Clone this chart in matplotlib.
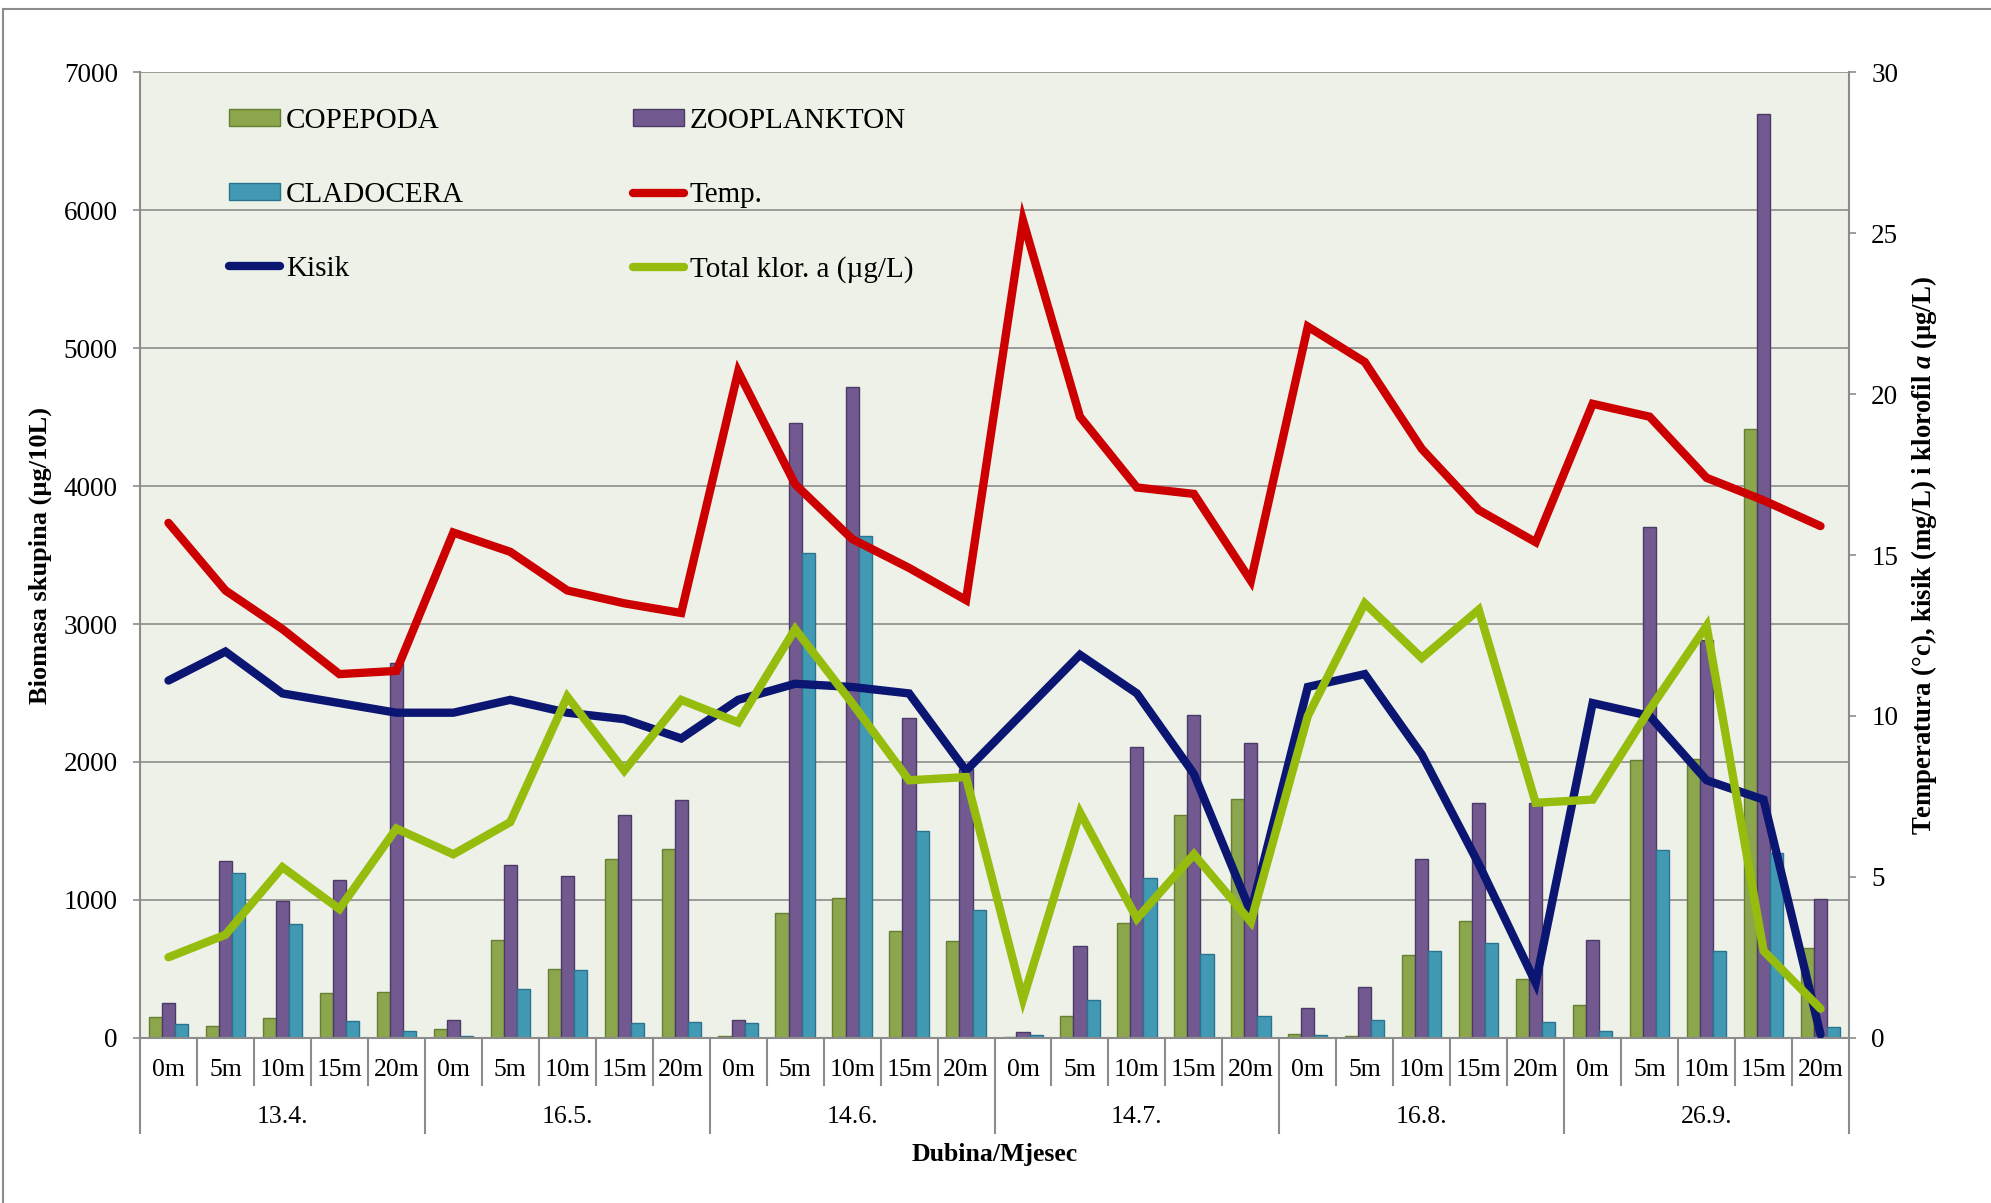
import matplotlib
matplotlib.use("Agg")
import matplotlib.pyplot as plt
from matplotlib.lines import Line2D
from matplotlib.patches import Patch
import numpy as np

# categories
months = ["13.4.", "16.5.", "14.6.", "14.7.", "16.8.", "26.9."]
depths = ["0m", "5m", "10m", "15m", "20m"]

# biomass (ug/10L), one value per month/depth
copepoda = [150, 87, 143, 322, 331,
            61, 711, 498, 1296, 1371,
            12, 904, 1015, 776, 703,
            8, 155, 832, 1617, 1732,
            27, 15, 600, 846, 423,
            235, 2017, 2020, 4412, 648]
zooplankton = [249, 1281, 993, 1146, 2717,
               131, 1250, 1173, 1617, 1722,
               128, 4458, 4716, 2321, 1950,
               41, 665, 2109, 2340, 2137,
               215, 368, 1294, 1704, 1704,
               708, 3703, 2883, 6696, 1005]
cladocera = [99, 1194, 827, 121, 49,
             12, 351, 491, 107, 114,
             106, 3518, 3638, 1501, 926,
             17, 273, 1160, 605, 155,
             22, 126, 631, 689, 114,
             49, 1363, 631, 1337, 78]

# secondary axis series
temp = [16.0, 13.9, 12.7, 11.3, 11.4,
        15.7, 15.1, 13.9, 13.5, 13.2,
        20.7, 17.2, 15.5, 14.6, 13.6,
        25.4, 19.3, 17.1, 16.9, 14.2,
        22.1, 21.0, 18.3, 16.4, 15.4,
        19.7, 19.3, 17.4, 16.7, 15.9]
kisik = [11.1, 12.0, 10.7, 10.4, 10.1,
         10.1, 10.5, 10.1, 9.9, 9.3,
         10.5, 11.0, 10.9, 10.7, 8.3,
         10.1, 11.9, 10.7, 8.2, 3.9,
         10.9, 11.3, 8.8, 5.4, 1.7,
         10.4, 10.0, 8.0, 7.4, 0.1]
klorofil = [2.5, 3.2, 5.3, 4.0, 6.5,
            5.7, 6.7, 10.6, 8.3, 10.5,
            9.8, 12.7, 10.4, 8.0, 8.1,
            1.2, 7.0, 3.7, 5.7, 3.6,
            10.0, 13.5, 11.8, 13.3, 7.3,
            7.4, 10.2, 12.8, 2.7, 0.9]

plt.rcParams["font.family"] = ["Liberation Serif", "DejaVu Serif"]
plt.rcParams["mathtext.fontset"] = "custom"
plt.rcParams["mathtext.rm"] = "Liberation Serif:bold"
plt.rcParams["mathtext.it"] = "Liberation Serif:italic:bold"

W, H = 1991, 1203
fig = plt.figure(figsize=(W / 100, H / 100), dpi=100)
fig.patch.set_facecolor("white")

ax_l, ax_r, ax_t, ax_b = 140, 1849, 72.4, 1037.7
ax = fig.add_axes([ax_l / W, 1 - ax_b / H, (ax_r - ax_l) / W, (ax_b - ax_t) / H])
ax.set_facecolor("#EEF1E8")

n = len(months) * len(depths)
x = np.arange(n)
bw = 0.23
grey = "#8C8C8C"

ax.bar(x - bw, copepoda, bw, color="#8BA64C", edgecolor="#667F33", linewidth=1.0, zorder=2)
ax.bar(x, zooplankton, bw, color="#725A91", edgecolor="#4B3A66", linewidth=1.0, zorder=2)
ax.bar(x + bw, cladocera, bw, color="#4299B3", edgecolor="#2A7490", linewidth=1.0, zorder=2)

ax.set_xlim(-0.5, n - 0.5)
ax.set_ylim(0, 7000)
ax.set_yticks(np.arange(0, 7001, 1000))
ax.yaxis.grid(True, color=grey, linewidth=1.2, zorder=0)
ax.set_axisbelow(True)
ax.tick_params(axis="y", labelsize=19.5, length=5, width=1.2, color=grey, pad=11)
ax.set_xticks([])
for s in ["top", "right"]:
    ax.spines[s].set_visible(False)
for s in ["left", "bottom"]:
    ax.spines[s].set_color(grey)
    ax.spines[s].set_linewidth(1.5)

ax2 = ax.twinx()
ax2.set_ylim(0, 30)
ax2.set_yticks(np.arange(0, 31, 5))
ax2.tick_params(axis="y", labelsize=19.5, length=5, width=1.2, color=grey, pad=11)
for s in ["top", "left", "bottom"]:
    ax2.spines[s].set_visible(False)
ax2.spines["right"].set_color(grey)
ax2.spines["right"].set_linewidth(1.5)
ax2.patch.set_visible(False)

lw = 6
ax2.plot(x, temp, color="#CC0000", linewidth=lw, solid_joinstyle="miter", solid_capstyle="round")
ax2.plot(x, kisik, color="#0A1672", linewidth=lw, solid_joinstyle="miter", solid_capstyle="round")
ax2.plot(x, klorofil, color="#96BD0D", linewidth=lw, solid_joinstyle="miter", solid_capstyle="round")

# multi-level category axis
trans = ax.get_xaxis_transform()
axh = ax_b - ax_t
d_sep = -(1085 - ax_b) / axh
m_sep = -(1133 - ax_b) / axh
for b in range(n + 1):
    low = m_sep if b % len(depths) == 0 else d_sep
    ax.plot([b - 0.5, b - 0.5], [0, low], transform=trans, color=grey,
            linewidth=1.5, clip_on=False)
for i in range(n):
    ax.text(i, -(1070 - ax_b) / axh, depths[i % len(depths)], transform=trans,
            ha="center", va="center", fontsize=18.5)
for j, m in enumerate(months):
    ax.text(j * len(depths) + (len(depths) - 1) / 2, -(1117 - ax_b) / axh, m,
            transform=trans, ha="center", va="center", fontsize=18.5)

fig.text((ax_l + ax_r) / 2 / W, 1 - 1154 / H, "Dubina/Mjesec", ha="center",
         va="center", fontsize=18.5, fontweight="bold")
yc = 1 - (ax_t + ax_b) / 2 / H
fig.text(40.6 / W, yc, "Biomasa skupina (µg/10L)", rotation=90, ha="center",
         va="center", fontsize=19, fontweight="bold")
fig.text(1924 / W, yc, r"Temperatura (°c), kisik (mg/L) i klorofil $\mathit{a}$ (µg/L)",
         rotation=90, ha="center", va="center", fontsize=19.3, fontweight="bold")

handles = [
    Patch(facecolor="#8BA64C", edgecolor="#667F33", label="COPEPODA"),
    Patch(facecolor="#4299B3", edgecolor="#2A7490", label="CLADOCERA"),
    Line2D([], [], color="#0A1672", linewidth=lw, solid_capstyle="round", label="Kisik"),
    Patch(facecolor="#725A91", edgecolor="#4B3A66", label="ZOOPLANKTON"),
    Line2D([], [], color="#CC0000", linewidth=lw, solid_capstyle="round", label="Temp."),
    Line2D([], [], color="#96BD0D", linewidth=lw, solid_capstyle="round", label="Total klor. a (µg/L)"),
]
leg = ax2.legend(handles=handles, ncol=2, loc="upper left",
                 bbox_to_anchor=(229 / W, 1 - 108 / H), bbox_transform=fig.transFigure,
                 frameon=False, fontsize=21, borderpad=0, borderaxespad=0,
                 handlelength=1.75, handleheight=0.5, handletextpad=0.2,
                 labelspacing=1.64, columnspacing=5.8)

# outer chart frame
fig.add_artist(Line2D([3 / W, 3 / W], [0, 1 - 9 / H], transform=fig.transFigure,
                      color=grey, linewidth=1.5))
fig.add_artist(Line2D([3 / W, 1], [1 - 9 / H, 1 - 9 / H], transform=fig.transFigure,
                      color=grey, linewidth=1.5))

fig.savefig("out.png", dpi=100)
